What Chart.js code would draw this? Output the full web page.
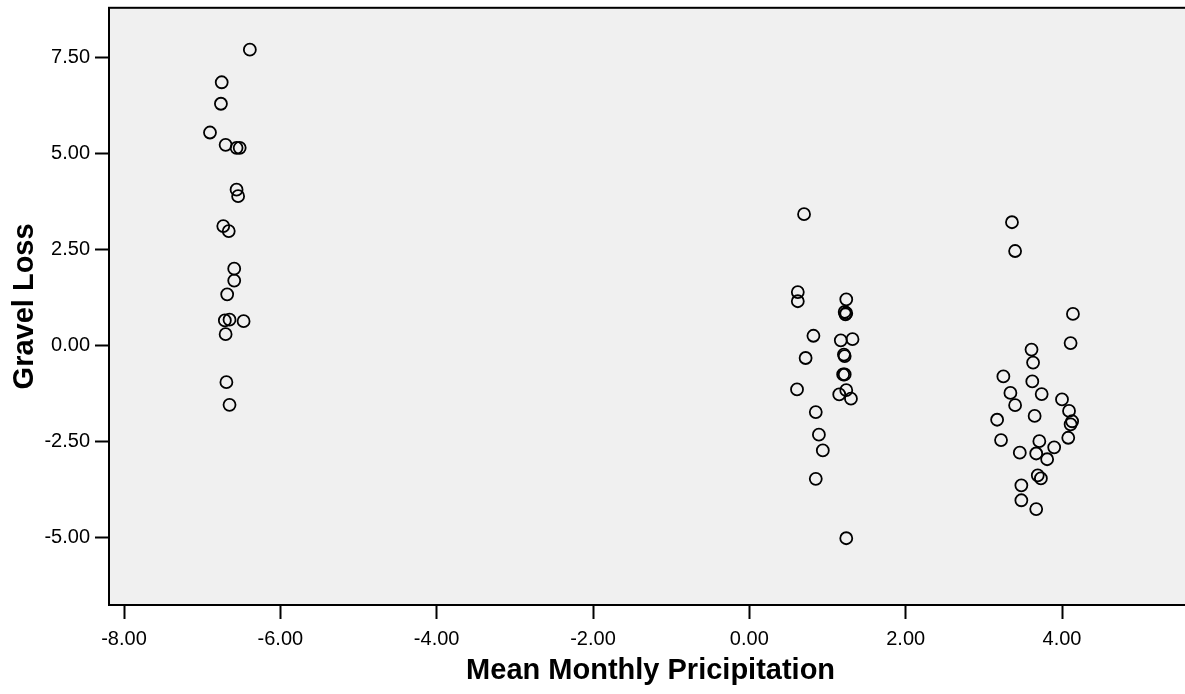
<!DOCTYPE html>
<html>
<head>
<meta charset="utf-8">
<script src="https://cdn.jsdelivr.net/npm/chart.js@4.4.1/dist/chart.umd.min.js"></script>
<style>
  html, body { margin: 0; padding: 0; background: #ffffff; overflow: hidden; }
  #wrap { width: 1185px; height: 694px; overflow: hidden; position: relative; }
  #c { position: absolute; left: 0; top: 0; }
</style>
</head>
<body>
<div id="wrap"><canvas id="c" width="1200" height="710"></canvas></div>
<script>
// Mean Monthly Pricipitation (x) and Gravel Loss (y)
const precipitation = [
  -6.39, -6.75, -6.76, -6.90, -6.70, -6.56, -6.52, -6.56, -6.54, -6.73,
  -6.66, -6.59, -6.59, -6.68, -6.71, -6.65, -6.47, -6.70, -6.69, -6.65,
  0.70, 0.62, 0.62, 1.24, 1.22, 1.23, 1.24, 0.82, 1.17, 1.32,
  0.72, 1.21, 1.22, 1.20, 1.22, 0.61, 1.15, 1.24, 1.30, 0.85,
  0.89, 0.94, 0.85, 1.24,
  3.36, 3.40, 4.14, 4.11, 3.61, 3.63, 3.25, 3.62, 3.34, 3.74,
  3.40, 4.00, 4.09, 3.65, 3.17, 4.13, 4.11, 4.08, 3.71, 3.22,
  3.90, 3.67, 3.46, 3.81, 3.69, 3.73, 3.48, 3.48, 3.67
];
const gravelLoss = [
  7.71, 6.86, 6.30, 5.55, 5.23, 5.15, 5.15, 4.06, 3.89, 3.11,
  2.98, 2.00, 1.69, 1.33, 0.65, 0.67, 0.63, 0.29, -0.96, -1.55,
  3.42, 1.39, 1.15, 1.20, 0.87, 0.81, 0.84, 0.25, 0.13, 0.16,
  -0.33, -0.24, -0.28, -0.76, -0.76, -1.15, -1.28, -1.17, -1.39, -1.74,
  -2.33, -2.74, -3.48, -5.03,
  3.21, 2.46, 0.82, 0.06, -0.11, -0.45, -0.81, -0.94, -1.24, -1.27,
  -1.56, -1.41, -1.71, -1.84, -1.94, -1.98, -2.06, -2.41, -2.50, -2.47,
  -2.66, -2.82, -2.80, -2.97, -3.39, -3.47, -3.65, -4.04, -4.27
];
const xTickValues = [-8, -6, -4, -2, 0, 2, 4];
const yTickValues = [-5, -2.5, 0, 2.5, 5, 7.5];
const xTitle = 'Mean Monthly Pricipitation';
const yTitle = 'Gravel Loss';

const points = precipitation.map((x, i) => ({ x: x, y: gravelLoss[i] }));

// Axis calibration: where the first and last x ticks sit in the reference layout
const xCalib = { lowValue: -8, lowPixel: 124, highValue: 4, highPixel: 1062 };

const calibratePlugin = {
  id: 'calibrate',
  afterLayout(chart) {
    const s = chart.scales.x;
    const k = (xCalib.highPixel - xCalib.lowPixel) / (xCalib.highValue - xCalib.lowValue);
    s.min = xCalib.lowValue - (xCalib.lowPixel - s.left) / k;
    s.max = xCalib.highValue + (s.right - xCalib.highPixel) / k;
    s.configure();
  }
};

const framePlugin = {
  id: 'frame',
  beforeDraw(chart) {
    const { ctx, chartArea: a } = chart;
    ctx.save();
    ctx.fillStyle = '#ffffff';
    ctx.fillRect(0, 0, chart.width, chart.height);
    ctx.fillStyle = '#f0f0f0';
    ctx.fillRect(a.left, a.top, a.right - a.left, a.bottom - a.top);
    ctx.restore();
  },
  afterDraw(chart) {
    const { ctx, chartArea: a } = chart;
    ctx.save();
    ctx.strokeStyle = '#000000';
    ctx.lineWidth = 2;
    ctx.strokeRect(a.left, a.top, a.right - a.left + 10, a.bottom - a.top);
    ctx.restore();
  }
};

const tickFont = { family: '"Liberation Sans", Arial, sans-serif', size: 20 };
const titleFont = { family: '"Liberation Sans", Arial, sans-serif', size: 29, weight: 'bold', lineHeight: 1.2 };

new Chart(document.getElementById('c'), {
  type: 'scatter',
  data: {
    datasets: [{
      data: points,
      pointStyle: 'circle',
      pointRadius: 6,
      pointBorderWidth: 1.8,
      borderColor: '#000000',
      backgroundColor: 'rgba(0,0,0,0)',
      pointBackgroundColor: 'rgba(0,0,0,0)'
    }]
  },
  options: {
    responsive: false,
    animation: false,
    layout: { padding: { left: 0, right: 0, top: 7, bottom: 0 } },
    plugins: { legend: { display: false }, tooltip: { enabled: false } },
    scales: {
      x: {
        type: 'linear',
        min: -8.192,
        max: 5.7,
        afterBuildTicks(s) { s.ticks = xTickValues.map(v => ({ value: v })); },
        afterFit(s) {
          s.height = 105;
          s.paddingLeft = 0; s.paddingRight = 0; s.paddingTop = 0; s.paddingBottom = 0;
        },
        ticks: {
          color: '#000000',
          font: tickFont,
          padding: 8,
          maxRotation: 0,
          autoSkip: false,
          callback: v => Number(v).toFixed(2)
        },
        grid: {
          drawOnChartArea: false,
          drawTicks: true,
          tickLength: 14,
          tickColor: '#000000',
          tickWidth: 2
        },
        border: { display: true, color: '#000000', width: 2 },
        title: {
          display: true,
          text: xTitle,
          color: '#000000',
          font: titleFont,
          padding: { top: 0, bottom: 22 }
        }
      },
      y: {
        type: 'linear',
        min: -6.771,
        max: 8.802,
        afterBuildTicks(s) { s.ticks = yTickValues.map(v => ({ value: v })); },
        afterFit(s) {
          s.width = 109;
          s.paddingLeft = 0; s.paddingRight = 0; s.paddingTop = 0; s.paddingBottom = 0;
        },
        ticks: {
          color: '#000000',
          font: tickFont,
          padding: 5,
          autoSkip: false,
          callback: v => Number(v).toFixed(2)
        },
        grid: {
          drawOnChartArea: false,
          drawTicks: true,
          tickLength: 14,
          tickColor: '#000000',
          tickWidth: 2
        },
        border: { display: true, color: '#000000', width: 2 },
        title: {
          display: true,
          text: yTitle,
          color: '#000000',
          font: titleFont,
          padding: { top: 8, bottom: 0 }
        }
      }
    }
  },
  plugins: [calibratePlugin, framePlugin]
});
</script>
</body>
</html>
